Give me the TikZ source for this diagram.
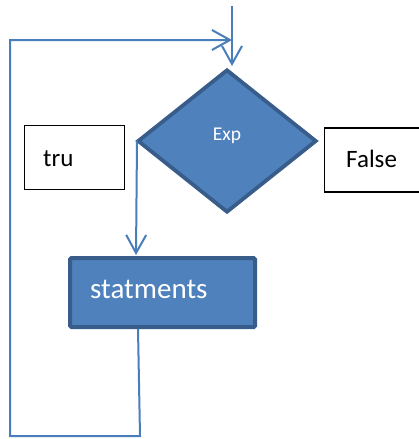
\documentclass[tikz,border=0pt]{standalone}
\usepackage{fontspec}
\setmainfont{Carlito}
\usetikzlibrary{shapes.geometric,arrows.meta}
\definecolor{conn}{HTML}{4A7EBB}
\definecolor{fillb}{HTML}{4F81BD}
\definecolor{edgeb}{HTML}{385D8A}
\tikzset{
  connector/.style={draw=conn,line width=2pt},
  tip/.style={-{Straight Barb[length=18pt,width=20pt,line width=2pt]}},
  whitebox/.style={draw=black,line width=1.6pt,fill=white,minimum width=#1,minimum height=64pt,inner sep=0pt,anchor=north west},
  decision/.style={shape=diamond,draw=edgeb,fill=fillb,line width=3.8pt,minimum width=179pt,minimum height=143pt,inner sep=0pt},
  process/.style={draw=edgeb,fill=fillb,line width=4.2pt,rounded corners=1.5pt,minimum width=185pt,minimum height=69pt,inner sep=0pt,anchor=north west},
  lbl/.style={anchor=base west,inner sep=0pt}
}
\begin{document}
\begin{tikzpicture}[x=1pt,y=-1pt]
\useasboundingbox (0,0) rectangle (419,439);
% boxes
\node[whitebox=100pt] (tru) at (23.5,124.5) {};
\node[lbl,font=\fontsize{25}{28}\selectfont] (trut) at (43,166) {tru};
\node[whitebox=100pt] (false) at (323.5,127) {};
\node[lbl,font=\fontsize{25}{28}\selectfont] (falset) at (346,167) {False};
\node[decision] (dia) at (227,141) {};
\node[anchor=base,inner sep=0pt,font=\fontsize{19.5}{22}\selectfont,text=white] (expt) at (227,140) {Exp};
\node[process] (stm) at (68,256) {};
\node[lbl,font=\fontsize{29}{32}\selectfont,text=white] (stmt) at (90,298) {statments};
% connectors
\coordinate (top) at (232,6);
\coordinate (topend) at (232,66);
\coordinate (stmbot) at (138,329);
\coordinate (br) at (140,436);
\coordinate (bl) at (10,436);
\coordinate (tl) at (10,40);
\coordinate (loopend) at (232,40);
\coordinate (diaw) at (137,141);
\coordinate (stmtop) at (136,255);
\draw[connector,tip] (top) -- (topend);
\draw[connector,tip] (stmbot) -- (br) -- (bl) -- (tl) -- (loopend);
\draw[connector,tip] (diaw) -- (stmtop);
\end{tikzpicture}
\end{document}
